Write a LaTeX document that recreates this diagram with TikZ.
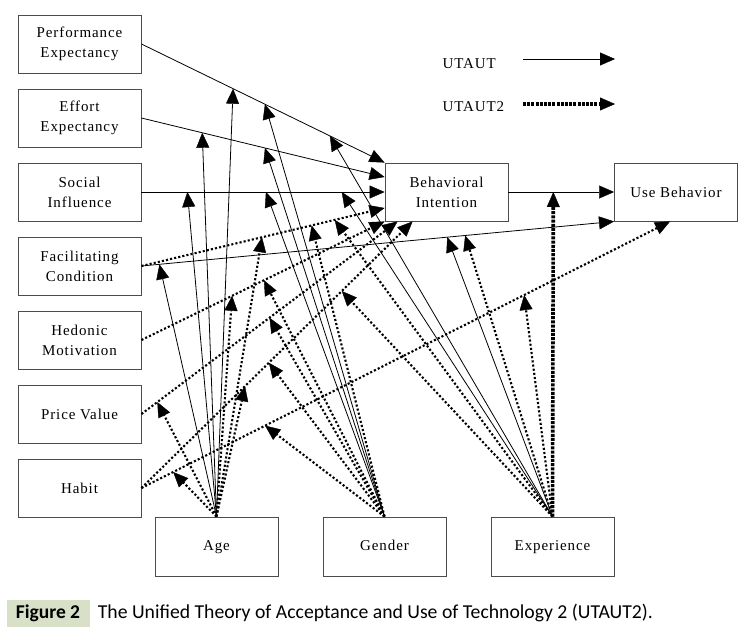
\documentclass[tikz,border=0pt]{standalone}
\usepackage{fontspec}
\setmainfont{Liberation Serif}[LetterSpace=6]
\newfontfamily\capfont{Carlito}
\usetikzlibrary{arrows.meta}
\definecolor{capbg}{HTML}{D8E0C8}

\begin{document}
\begin{tikzpicture}[x=1pt,y=-1pt,
  box/.style={draw=black!70,line width=0.9pt,minimum width=123pt,minimum height=58pt,inner sep=2pt,align=center,font=\fontsize{15}{20}\selectfont},
  tip/.style={-{Triangle[length=15pt,width=13pt,line width=0.4pt]}},
  utaut/.style={draw,line width=0.8pt,tip},
  utauttwo/.style={draw,line width=2.1pt,dash pattern=on 2.1pt off 2.1pt,tip},
  utautbold/.style={draw,line width=3.6pt,dash pattern=on 3pt off 1.2pt,tip}]
  \useasboundingbox (0,0) rectangle (752,640);

  % constructs
  \node[box] (pe)  at (79.5,44)  {Performance\\Expectancy};
  \node[box] (ee)  at (79.5,118) {Effort\\Expectancy};
  \node[box] (si)  at (79.5,192) {Social\\Influence};
  \node[box] (fc)  at (79.5,266) {Facilitating\\Condition};
  \node[box] (hm)  at (79.5,340) {Hedonic\\Motivation};
  \node[box] (pv)  at (79.5,414) {Price Value};
  \node[box] (hb)  at (79.5,488) {Habit};
  \node[box] (bi)  at (446.5,192) {Behavioral\\Intention};
  \node[box] (ub)  at (676,192)  {Use Behavior};
  % moderators
  \node[box,minimum height=59pt] (age) at (216.5,546.5) {\strut Age};
  \node[box,minimum height=59pt] (gen) at (384.5,546.5) {\strut Gender};
  \node[box,minimum height=59pt] (exp) at (552.5,546.5) {\strut Experience};

  % legend
  \node[font=\fontsize{15}{18}\selectfont,anchor=west] (lgA) at (439,64)  {UTAUT};
  \node[font=\fontsize{15}{18}\selectfont,anchor=west] (lgB) at (439,107) {UTAUT2};
  \coordinate (lgAend) at (615,59);
  \coordinate (lgBend) at (615,104);
  \draw[utaut] (523,59) -- (lgAend);
  \draw[utautbold] (523,104) -- (lgBend);

  % main paths
  \draw[utaut] (pe.east) -- (bi.north west);
  \draw[utaut] (ee.east) -- ([yshift=15pt]bi.west);
  \draw[utaut] (si.east) -- (bi.west);
  \draw[utaut] (fc.east) -- (ub.south west);
  \draw[utauttwo] (fc.east) -- ([yshift=-16pt]bi.west);
  \draw[utauttwo] (hm.east) -- (bi.south west);
  \draw[utauttwo] (pv.east) -- ([xshift=13pt]bi.south west);
  \draw[utauttwo] (hb.east) -- ([xshift=28pt]bi.south west);
  \draw[utauttwo] (hb.east) -- ([xshift=56pt]ub.south west);
  \draw[utaut] (bi.east) -- (ub.west);

  % points on the paths hit by the moderators
  \path (pe.east) -- (bi.north west) coordinate[pos=0.377] (peAge) coordinate[pos=0.508] (peGen) coordinate[pos=0.775] (peExp);
  \path (ee.east) -- ([yshift=15pt]bi.west) coordinate[pos=0.25] (eeAge) coordinate[pos=0.508] (eeGen);
  \path (si.east) -- (bi.west) coordinate[pos=0.189] (siAge) coordinate[pos=0.512] (siGen) coordinate[pos=0.824] (siExp);
  \path (fc.east) -- (ub.south west) coordinate[pos=0.038] (fcuAge) coordinate[pos=0.647] (fcuExp) coordinate[pos=0.685] (fcuExpB);
  \path (fc.east) -- ([yshift=-16pt]bi.west) coordinate[pos=0.496] (fcbAge) coordinate[pos=0.70] (fcbGen) coordinate[pos=0.795] (fcbExp);
  \path (hm.east) -- (bi.south west) coordinate[pos=0.373] (hmAge) coordinate[pos=0.504] (hmGen);
  \path (pv.east) -- ([xshift=13pt]bi.south west) coordinate[pos=0.062] (pvAge) coordinate[pos=0.50] (pvGen);
  \path (hb.east) -- ([xshift=28pt]bi.south west) coordinate[pos=0.382] (hbbAge) coordinate[pos=0.47] (hbbGen) coordinate[pos=0.739] (hbbExp);
  \path (hb.east) -- ([xshift=56pt]ub.south west) coordinate[pos=0.06] (hbuAge) coordinate[pos=0.234] (hbuGen) coordinate[pos=0.724] (hbuExp);
  \path (bi.east) -- (ub.west) coordinate[pos=0.425] (buExp);

  % age
  \draw[utaut] (age.north) -- (peAge);
  \draw[utaut] (age.north) -- (eeAge);
  \draw[utaut] (age.north) -- (siAge);
  \draw[utaut] (age.north) -- (fcuAge);
  \draw[utauttwo] (age.north) -- (fcbAge);
  \draw[utauttwo] (age.north) -- (hmAge);
  \draw[utauttwo] (age.north) -- (pvAge);
  \draw[utauttwo] (age.north) -- (hbbAge);
  \draw[utauttwo] (age.north) -- (hbuAge);
  % gender
  \draw[utaut] (gen.north) -- (peGen);
  \draw[utaut] (gen.north) -- (eeGen);
  \draw[utaut] (gen.north) -- (siGen);
  \draw[utauttwo] (gen.north) -- (fcbGen);
  \draw[utauttwo] (gen.north) -- (hmGen);
  \draw[utauttwo] (gen.north) -- (pvGen);
  \draw[utauttwo] (gen.north) -- (hbbGen);
  \draw[utauttwo] (gen.north) -- (hbuGen);
  % experience
  \draw[utaut] (exp.north) -- (peExp);
  \draw[utaut] (exp.north) -- (siExp);
  \draw[utaut] (exp.north) -- (fcuExp);
  \draw[utauttwo] (exp.north) -- (fcuExpB);
  \draw[utauttwo] (exp.north) -- (fcbExp);
  \draw[utauttwo] (exp.north) -- (hbbExp);
  \draw[utauttwo] (exp.north) -- (hbuExp);
  \draw[utautbold] (exp.north) -- (buExp);

  % caption
  \node[fill=capbg,minimum width=83pt,minimum height=27pt,inner sep=0pt,font=\capfont\bfseries\fontsize{19.5}{22}\selectfont] (figno) at (48,613) {Figure 2};
  \node[anchor=west,inner sep=0pt,font=\capfont\fontsize{19.7}{22}\selectfont] (figcap) at ([xshift=8pt]figno.east) {The Unified Theory of Acceptance and Use of Technology 2 (UTAUT2).};
\end{tikzpicture}
\end{document}
